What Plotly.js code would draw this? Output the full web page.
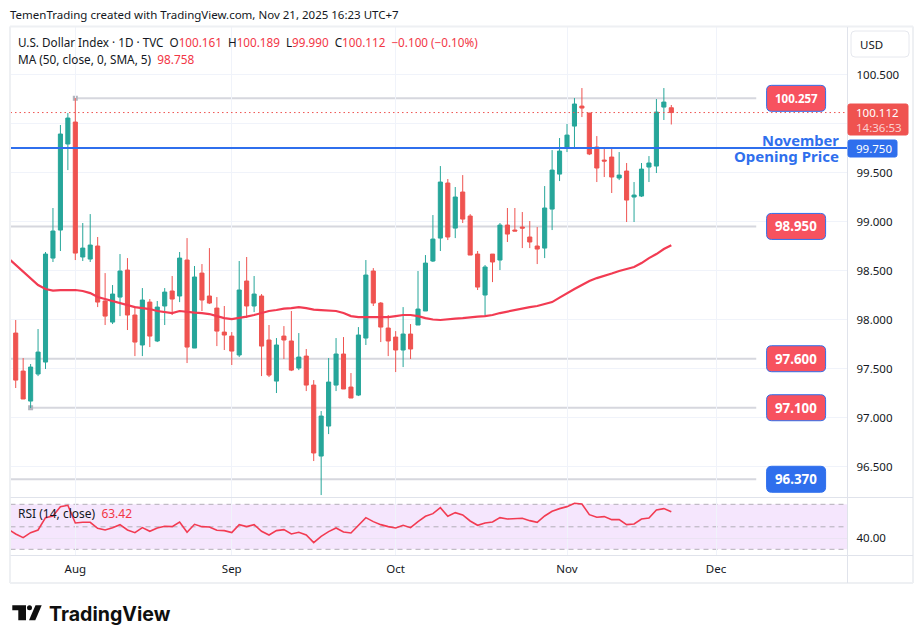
<!DOCTYPE html>
<html><head><meta charset="utf-8">
<script src="https://cdn.plot.ly/plotly-3.0.1.min.js"></script>
<style>html,body{margin:0;padding:0;background:#fff}#c{width:923px;height:643px}</style>
</head><body><div id="c"></div>
<script>
const firstIndex=-9;
const opens=[98.352,97.862,97.474,97.168,97.444,97.566,98.627,98.913,99.791,
100.015,98.638,98.617,98.750,98.189,97.974,98.229,98.505,98.046,97.740,
98.178,97.781,98.138,98.291,98.240,98.607,97.709,98.474,98.240,98.117,
97.872,97.831,97.638,98.393,98.138,98.240,97.791,97.372,97.831,97.781,
97.505,97.627,97.331,96.607,96.913,97.331,97.648,97.311,97.229,97.811,
98.495,98.168,97.913,97.821,97.689,97.852,97.944,98.087,98.597,98.831,
99.393,98.933,99.301,99.056,98.668,98.250,98.668,98.607,98.964,98.913,
98.944,98.842,98.750,98.729,99.127,99.484,99.750,99.974,100.178,100.107,
99.760,99.627,99.658,99.444,99.515,99.250,99.260,99.556,99.566,100.168,100.161];
const highs=[98.403,97.995,97.607,97.546,97.903,98.689,99.138,99.985,100.107,
100.260,98.985,99.076,98.842,98.474,98.352,98.668,98.627,98.138,98.321,
98.209,98.189,98.321,98.444,98.689,98.831,98.546,98.566,98.729,98.229,
98.138,97.872,98.597,98.638,98.444,98.260,97.944,97.811,97.933,98.087,
97.862,97.699,97.382,97.066,97.607,97.811,97.821,97.454,97.923,98.607,
98.525,98.178,98.046,97.882,98.127,97.954,98.495,98.658,99.066,99.566,
99.434,99.352,99.474,99.076,98.699,98.556,98.668,98.985,99.138,99.138,
99.097,99.005,98.944,99.362,99.729,99.852,99.995,100.260,100.362,100.107,
99.872,99.740,99.740,99.709,99.597,99.403,99.597,99.668,100.250,100.362,100.189];
const lows=[97.791,97.301,97.189,97.097,97.423,97.495,98.587,98.699,99.525,
98.607,98.597,98.587,98.127,97.944,97.954,98.035,97.893,97.627,97.627,
97.719,97.770,97.944,98.046,98.178,97.556,97.709,98.087,98.158,97.729,
97.689,97.536,97.617,98.015,98.076,97.423,97.413,97.250,97.597,97.474,
97.484,97.270,96.556,96.209,96.831,97.270,97.291,97.199,97.219,97.740,
98.138,97.770,97.627,97.464,97.515,97.597,97.944,98.087,98.587,98.699,
98.811,98.831,98.985,98.658,98.301,98.035,98.382,98.505,98.791,98.903,
98.729,98.729,98.566,98.627,98.913,99.413,99.709,99.760,100.066,99.678,
99.403,99.454,99.291,99.423,98.995,98.995,99.250,99.403,99.495,100.036,99.990];
const closes=[97.842,97.382,97.189,97.515,97.668,98.668,98.903,99.893,100.056,
98.678,98.729,98.760,98.178,98.035,98.260,98.495,98.046,97.770,98.199,
97.831,98.127,98.280,98.209,98.627,97.719,98.434,98.199,98.168,97.882,
97.842,97.678,98.301,98.138,98.260,97.729,97.433,97.740,97.791,97.484,
97.617,97.331,96.638,97.015,97.362,97.648,97.291,97.199,97.842,98.454,
98.168,97.923,97.781,97.689,97.852,97.699,98.107,98.576,98.821,99.403,
98.842,99.250,99.025,98.658,98.331,98.536,98.587,98.964,98.872,98.903,
98.933,98.791,98.719,99.138,99.525,99.719,99.882,100.199,100.158,99.689,
99.546,99.617,99.454,99.474,99.219,99.270,99.535,99.597,100.117,100.219,100.112];
const maValues=[98.627,98.556,98.484,98.423,98.352,98.311,98.296,98.301,98.301,
98.301,98.291,98.270,98.229,98.209,98.189,98.168,98.148,98.127,98.117,
98.107,98.087,98.076,98.066,98.087,98.076,98.071,98.066,98.056,98.035,
98.015,98.005,98.015,98.030,98.046,98.066,98.087,98.097,98.112,98.117,
98.127,98.117,98.102,98.097,98.092,98.087,98.066,98.035,98.025,98.025,
98.020,98.020,98.025,98.035,98.046,98.046,98.035,98.015,98.000,97.995,
98.005,98.010,98.015,98.025,98.030,98.035,98.046,98.066,98.082,98.097,
98.117,98.127,98.138,98.158,98.178,98.224,98.270,98.311,98.352,98.393,
98.423,98.444,98.469,98.495,98.515,98.536,98.576,98.627,98.668,98.719,98.758];
const rsiValues=[47.78,43.63,40.37,44.81,47.18,58.15,59.63,67.93,69.11,
53.41,54.00,54.00,48.67,47.18,49.26,51.92,47.18,44.81,49.26,
46.00,48.96,50.44,50.15,54.30,45.11,52.22,50.15,49.85,46.89,
46.59,44.81,51.92,50.15,51.92,46.00,42.74,46.59,47.48,43.63,
45.11,42.74,35.93,41.55,45.70,48.96,45.41,44.52,51.33,58.15,
54.59,51.92,50.15,48.96,51.33,49.26,54.59,59.33,61.70,67.04,
59.33,62.59,60.52,55.18,51.33,53.41,54.30,58.15,56.96,56.96,
57.55,55.48,54.00,59.63,63.78,66.15,67.93,70.89,70.30,60.81,
58.44,59.04,56.37,56.37,51.92,52.52,56.96,57.85,64.96,66.15,63.42];
const xIndex=opens.map((_,i)=>i+firstIndex);
const monthTicks=[0,21,43,66,86];
const monthLabels=['Aug','Sep','Oct','Nov','Dec'];
const priceTicks=[96.5,97,97.5,98,98.5,99,99.5,100,100.5];
const priceLabels=['96.500','97.000','97.500','98.000','98.500','99.000','99.500','','100.500'];
const levels=[100.257,98.95,97.6,97.1,96.37];
const levelLabels=['100.257','98.950','97.600','97.100','96.370'];
const levelFills=['#f7525f','#f7525f','#f7525f','#f7525f','#2f6fed'];
const levelStarts=[0,-9,-9,-6,-9];
const levelEnds=[91.4,91.4,91.4,91.4,91.4];
const levelFontSizes=[11.5,13.3,13.3,13.3,13.3];
const openLevel=99.75, lastClose=100.112;

const W=923,H=643;
const px=x=>x/W, py=y=>1-y/H;
const FONT='"Noto Sans", sans-serif';
const INK='#131722', RED='#f23645', BLUE='#2f6fed', RULE='#e0e3eb';

function rrPath(w,h,r){const a=w/2,b=h/2;
 return `M${-a+r},${-b}L${a-r},${-b}Q${a},${-b} ${a},${-b+r}L${a},${b-r}Q${a},${b} ${a-r},${b}L${-a+r},${b}Q${-a},${b} ${-a},${b-r}L${-a},${-b+r}Q${-a},${-b} ${-a+r},${-b}Z`;}
function rrPaper(cx,cy,w,h,r,fill,line,lw){return {type:'path',layer:'above',xref:'paper',yref:'paper',xsizemode:'pixel',ysizemode:'pixel',
 xanchor:px(cx),yanchor:py(cy),path:rrPath(w,h,r),fillcolor:fill,line:{color:line||fill,width:lw===undefined?1:lw}};}
function rule(x0,y0,x1,y1,color,width){return {type:'line',layer:'above',xref:'paper',yref:'paper',x0:px(x0),x1:px(x1),y0:py(y0),y1:py(y1),line:{color:color||RULE,width:width||1}};}
function polyPaper(points,fill){return {type:'path',layer:'above',xref:'paper',yref:'paper',
 path:'M'+points.map(p=>px(p[0])+','+py(p[1])).join('L')+'Z',fillcolor:fill,line:{width:0}};}
function note(x,y,text,size,color,anchor,extra){return Object.assign({xref:'paper',yref:'paper',x:px(x),y:py(y),text:text,showarrow:false,
 xanchor:anchor||'left',yanchor:'middle',align:anchor==='right'?'right':'left',font:{family:FONT,size:size,color:color||INK},borderpad:0,borderwidth:0},extra||{});}

const shapes=[];
shapes.push({type:'rect',layer:'below',xref:'paper',yref:'y2',x0:px(10.5),x1:px(847.5),y0:30,y1:70,fillcolor:'rgba(180,60,240,0.13)',line:{width:0}});
[70,50,30].forEach(v=>shapes.push({type:'line',layer:'below',xref:'paper',yref:'y2',x0:px(10.5),x1:px(847.5),y0:v,y1:v,line:{color:'#b3aeb8',width:1,dash:'5px 4px'}}));
levels.forEach((v,i)=>shapes.push({type:'line',layer:'below',xref:'x',yref:'y',x0:levelStarts[i],x1:levelEnds[i],y0:v,y1:v,line:{color:'#d6d7de',width:2}}));
[[0,100.257],[-6,97.1]].forEach(m=>shapes.push({type:'rect',layer:'below',xref:'x',yref:'y',xsizemode:'pixel',ysizemode:'pixel',xanchor:m[0],yanchor:m[1],x0:-2.5,x1:2.5,y0:-2.5,y1:2.5,fillcolor:'#b2b5be',line:{width:0}}));
shapes.push({type:'line',layer:'above',xref:'paper',yref:'y',x0:px(10.5),x1:px(847.5),y0:openLevel,y1:openLevel,line:{color:BLUE,width:2}});
shapes.push({type:'line',layer:'above',xref:'paper',yref:'y',x0:px(10.5),x1:px(847.5),y0:lastClose,y1:lastClose,line:{color:'#ef5350',width:1,dash:'1.5px 3px'}});
shapes.push(rule(10,26.5,913,26.5,'#eef0f3',2),rule(10,583,913,583,'#eef0f3',2),rule(10,26.5,10,583,'#eef0f3',2),rule(913,26.5,913,583,'#eef0f3',2));
shapes.push(rule(10.5,497.5,913,497.5),rule(10.5,555.5,913,555.5),rule(847.5,27,847.5,583));
levels.forEach((v,i)=>shapes.push({type:'path',layer:'above',xref:'x',yref:'y',xsizemode:'pixel',ysizemode:'pixel',xanchor:96.75,yanchor:v,path:rrPath(59,26,5),fillcolor:levelFills[i],line:{color:BLUE,width:1}}));
shapes.push(rrPaper(878,119.5,60,31,2,'#ef5350'),rrPaper(872.5,148.5,49,17,2,BLUE));
shapes.push(rrPaper(880,44,58,26,4,'#ffffff','#e6e8ee',1));
shapes.push(polyPaper([[12.3,605.3],[26,605.3],[26,620.3],[18.3,620.3],[18.3,610.3],[12.3,610.3]],'#0f0f0f'));
shapes.push({type:'circle',layer:'above',xref:'paper',yref:'paper',xsizemode:'pixel',ysizemode:'pixel',xanchor:px(29.5),yanchor:py(607.8),x0:-2.5,x1:2.5,y0:-2.5,y1:2.5,fillcolor:'#0f0f0f',line:{width:0}});
shapes.push(polyPaper([[29,620.3],[35.3,620.3],[41.7,605.3],[35.5,605.3]],'#0f0f0f'));

const redSpan=t=>`<span style="color:${RED}">${t}</span>`;
const annotations=[
 note(10,15,'TemenTrading created with TradingView.com, Nov 21, 2025 16:23 UTC+7',11.5,INK),
 note(18,42,'U.S. Dollar Index · 1D · TVC  O'+redSpan('100.161')+'  H'+redSpan('100.189')+'  L'+redSpan('99.990')+'  C'+redSpan('100.112')+'  '+redSpan('−0.100 (−0.10%)'),11.7,INK),
 note(18,59,'MA (50, close, 0, SMA, 5)  '+redSpan('98.758'),11.8,INK),
 note(18,513,'RSI (14, close)  '+redSpan('63.42'),12,INK),
 note(839,139.5,'<b>November</b>',14.7,BLUE,'right'),
 note(839,156,'<b>Opening Price</b>',15,BLUE,'right'),
 note(860,44,'USD',11.5,INK),
 note(856,119.5,'100.112<br><span style="color:#fbd0d0">14:36:53</span>',11.5,'#ffffff'),
 note(856,148.5,'99.750',11.5,'#ffffff'),
 note(49,613.5,'<b>TradingView</b>',19.6,'#0f0f0f','left',{font:{family:'Inter, sans-serif',size:19.6,color:'#0f0f0f'}})
];
levels.forEach((v,i)=>annotations.push({xref:'x',yref:'y',x:96.75,y:v,text:'<b>'+levelLabels[i]+'</b>',showarrow:false,xanchor:'center',yanchor:'middle',font:{family:FONT,size:levelFontSizes[i],color:'#ffffff'}}));

const traces=[
 {type:'candlestick',x:xIndex,open:opens,high:highs,low:lows,close:closes,xaxis:'x',yaxis:'y',whiskerwidth:0,hoverinfo:'skip',showlegend:false,
  increasing:{line:{color:'#26a69a',width:1},fillcolor:'#26a69a'},decreasing:{line:{color:'#ef5350',width:1},fillcolor:'#ef5350'}},
 {type:'scatter',mode:'lines',x:xIndex,y:maValues,xaxis:'x',yaxis:'y',line:{color:'#f23b52',width:2.2},hoverinfo:'skip',showlegend:false},
 {type:'scatter',mode:'lines',x:xIndex,y:rsiValues,xaxis:'x',yaxis:'y2',line:{color:'#f23b52',width:1.6},hoverinfo:'skip',showlegend:false}
];
const layout={width:W,height:H,margin:{l:0,r:0,t:0,b:0},paper_bgcolor:'#fff',plot_bgcolor:'#fff',showlegend:false,boxgap:0.45,boxgroupgap:0,
 font:{family:FONT,size:12,color:INK},
 xaxis:{domain:[px(10.5),px(847.5)],anchor:'y2',range:[-8.70,103.65],tickmode:'array',tickvals:monthTicks,ticktext:monthLabels,ticks:'',
  rangeslider:{visible:false},showgrid:true,gridcolor:'#f0f3fa',gridwidth:1,zeroline:false,showline:false,ticklabelstandoff:5,tickfont:{family:FONT,size:11.5,color:INK}},
 yaxis:{domain:[py(497.5),py(27)],anchor:'x',side:'right',range:[96.184,100.985],tickmode:'array',tickvals:priceTicks,ticktext:priceLabels,ticks:'',
  showgrid:true,gridcolor:'#f0f3fa',gridwidth:1,zeroline:false,showline:false,ticklabelstandoff:8,tickfont:{family:FONT,size:11.5,color:INK}},
 yaxis2:{domain:[py(555.5),py(497.5)],anchor:'x',side:'right',range:[24.5,76.04],tickmode:'array',tickvals:[40],ticktext:['40.00'],ticks:'',
  showgrid:true,gridcolor:'#ebe3f3',gridwidth:1,zeroline:false,showline:false,ticklabelstandoff:8,tickfont:{family:FONT,size:11.5,color:INK}},
 shapes:shapes,annotations:annotations};
Plotly.newPlot('c',traces,layout,{displayModeBar:false,staticPlot:true});
</script></body></html>
